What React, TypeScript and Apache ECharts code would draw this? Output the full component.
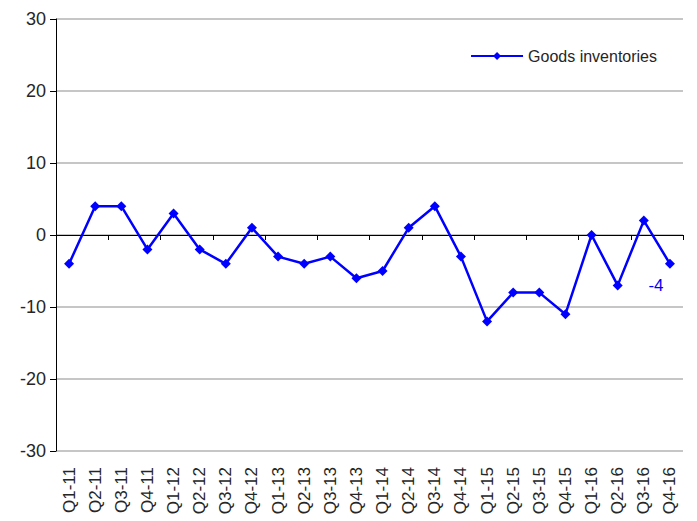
import React, { useEffect, useRef } from "react";
import * as echarts from "echarts";

const categories = [
  "Q1-11", "Q2-11", "Q3-11", "Q4-11",
  "Q1-12", "Q2-12", "Q3-12", "Q4-12",
  "Q1-13", "Q2-13", "Q3-13", "Q4-13",
  "Q1-14", "Q2-14", "Q3-14", "Q4-14",
  "Q1-15", "Q2-15", "Q3-15", "Q4-15",
  "Q1-16", "Q2-16", "Q3-16", "Q4-16",
];
const goodsInventories = [
  -4, 4, 4, -2,
  3, -2, -4, 1,
  -3, -4, -3, -6,
  -5, 1, 4, -3,
  -12, -8, -8, -11,
  0, -7, 2, -4,
];
const seriesName = "Goods inventories";
const yMin = -30;
const yMax = 30;
const yInterval = 10;

export default function App() {
  const ref = useRef<HTMLDivElement>(null);
  useEffect(() => {
    if (!ref.current) return;
    const chart = echarts.init(ref.current, undefined, { renderer: "svg" });
    const font = "Liberation Sans";
    const lastIdx = goodsInventories.length - 1;
    chart.setOption({
      animation: false,
      grid: { left: 56, right: 14, top: 19, bottom: 70, containLabel: false },
      legend: {
        data: [seriesName],
        right: 35,
        top: 43,
        itemWidth: 52,
        itemHeight: 10,
        itemGap: 6,
        textStyle: { fontFamily: font, fontSize: 16, color: "#262626" },
      },
      xAxis: [
        {
          type: "category",
          data: categories,
          position: "bottom",
          axisLine: { show: true, onZero: true, lineStyle: { color: "#000", width: 1 } },
          axisTick: { show: true, length: 5, inside: false, lineStyle: { color: "#000" } },
          axisLabel: { show: false },
          splitLine: { show: false },
        },
        {
          type: "category",
          data: categories,
          position: "bottom",
          offset: 0,
          axisLine: { show: false },
          axisTick: { show: false },
          axisLabel: {
            show: true,
            rotate: 90,
            interval: 0,
            margin: 16,
            fontFamily: font,
            fontSize: 17,
            color: "#262626",
          },
          splitLine: { show: false },
        },
      ],
      yAxis: {
        type: "value",
        min: yMin,
        max: yMax,
        interval: yInterval,
        axisLine: { show: true, lineStyle: { color: "#000", width: 1 } },
        axisTick: { show: true, length: 6, lineStyle: { color: "#000" } },
        axisLabel: { fontFamily: font, fontSize: 18, color: "#262626", margin: 10 },
        splitLine: { show: true, lineStyle: { color: "#b3b3b3", width: 1.5 } },
      },
      series: [
        {
          name: seriesName,
          type: "line",
          xAxisIndex: 0,
          data: goodsInventories.map((v, i) =>
            i === lastIdx
              ? {
                  value: v,
                  label: {
                    show: true,
                    position: "bottom",
                    offset: [-14, 3],
                    fontFamily: font,
                    fontSize: 17,
                    color: "#0000ff",
                  },
                }
              : v
          ),
          symbol: "diamond",
          symbolSize: 10,
          lineStyle: { color: "#0000ff", width: 2.5 },
          itemStyle: { color: "#0000ff" },
        },
      ],
    });
    return () => chart.dispose();
  }, []);
  return <div ref={ref} style={{ width: 697, height: 521, position: "absolute", left: 0, top: 0 }} />;
}
